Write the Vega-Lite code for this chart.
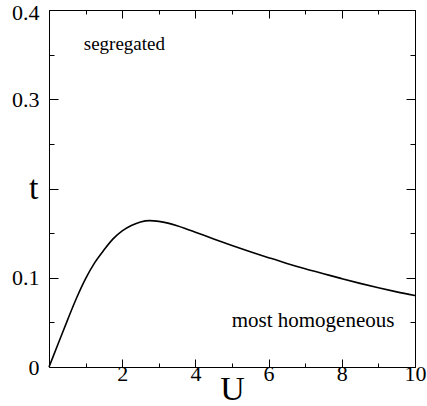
{
  "$schema": "https://vega.github.io/schema/vega-lite/v6.json",
  "width": 366,
  "height": 357,
  "autosize": "none",
  "padding": {"left": 49, "top": 10, "right": 12, "bottom": 39},
  "config": {
    "view": {"stroke": null},
    "font": "Liberation Serif",
    "axis": {
      "domainColor": "black",
      "domainWidth": 1,
      "tickColor": "black",
      "tickWidth": 1,
      "grid": false,
      "labelColor": "black",
      "labelFont": "Liberation Serif",
      "labelFontSize": 22,
      "title": null,
      "labelFlush": false,
      "labelOverlap": false
    }
  },
  "resolve": {"axis": {"x": "independent", "y": "independent"}},
  "layer": [
    {
      "data": {
        "values": [
          {"U": 0, "t": 0},
          {"U": 0.25, "t": 0.026},
          {"U": 0.5, "t": 0.052},
          {"U": 0.75, "t": 0.077},
          {"U": 1.0, "t": 0.099},
          {"U": 1.25, "t": 0.117},
          {"U": 1.5, "t": 0.131},
          {"U": 1.75, "t": 0.1435},
          {"U": 2.0, "t": 0.1525},
          {"U": 2.25, "t": 0.1585},
          {"U": 2.5, "t": 0.1625},
          {"U": 2.75, "t": 0.164},
          {"U": 3.0, "t": 0.1632},
          {"U": 3.25, "t": 0.1612},
          {"U": 3.5, "t": 0.1582},
          {"U": 3.75, "t": 0.1547},
          {"U": 4.0, "t": 0.151},
          {"U": 4.5, "t": 0.1435},
          {"U": 5.0, "t": 0.1362},
          {"U": 5.5, "t": 0.1292},
          {"U": 6.0, "t": 0.1225},
          {"U": 6.5, "t": 0.116},
          {"U": 7.0, "t": 0.11},
          {"U": 7.5, "t": 0.1045},
          {"U": 8.0, "t": 0.099},
          {"U": 8.5, "t": 0.0937},
          {"U": 9.0, "t": 0.0888},
          {"U": 9.5, "t": 0.0842},
          {"U": 10.0, "t": 0.08}
        ]
      },
      "mark": {"type": "line", "color": "black", "strokeWidth": 1.6, "interpolate": "monotone"},
      "encoding": {
        "x": {
          "field": "U", "type": "quantitative",
          "scale": {"domain": [0, 10], "nice": false, "zero": false},
          "axis": {
            "orient": "bottom",
            "values": [0, 1, 2, 3, 4, 5, 6, 7, 8, 9, 10],
            "labelExpr": "datum.value == 5 ? 'U' : (datum.value > 0 && datum.value % 2 == 0 ? datum.label : '')",
            "labelFontSize": {"condition": {"test": "datum.value == 5", "value": 34}, "value": 22},
            "labelPadding": {"condition": {"test": "datum.value == 5", "value": 9}, "value": 4},
            "tickSize": {"condition": {"test": "datum.value % 2 == 0", "value": -8}, "value": -4},
            "labelBaseline": "top"
          }
        },
        "y": {
          "field": "t", "type": "quantitative",
          "scale": {"domain": [0, 0.4], "nice": false, "zero": false},
          "axis": {
            "orient": "left",
            "values": [0, 0.05, 0.1, 0.15, 0.2, 0.25, 0.3, 0.35, 0.4],
            "labelExpr": "datum.value == 0 ? '0' : (round(datum.value*20) == 4 ? 't' : (round(datum.value*20) % 2 == 0 ? format(datum.value, '.1f') : ''))",
            "labelFontSize": {"condition": {"test": "round(datum.value*20) == 4", "value": 34}, "value": 22},
            "labelPadding": {"condition": {"test": "round(datum.value*20) == 4", "value": 20}, "value": 19},
            "labelOffset": {"condition": {"test": "round(datum.value*20) == 8", "value": 2}, "value": 0},
            "tickSize": {"condition": {"test": "round(datum.value*20) % 2 == 0", "value": -9}, "value": -5},
            "labelBaseline": "middle"
          }
        }
      }
    },
    {
      "data": {
        "values": [
          {"U": 0.95, "t": 0.355, "label": "segregated", "size": 19},
          {"U": 4.99, "t": 0.045, "label": "most homogeneous", "size": 21}
        ]
      },
      "mark": {"type": "text", "align": "left", "baseline": "alphabetic", "font": "Liberation Serif", "color": "black"},
      "encoding": {
        "x": {
          "field": "U", "type": "quantitative",
          "scale": {"domain": [0, 10], "nice": false, "zero": false},
          "axis": {
            "orient": "top",
            "values": [0, 1, 2, 3, 4, 5, 6, 7, 8, 9, 10],
            "labels": false,
            "tickSize": {"condition": {"test": "datum.value % 2 == 0", "value": -8}, "value": -4}
          }
        },
        "y": {
          "field": "t", "type": "quantitative",
          "scale": {"domain": [0, 0.4], "nice": false, "zero": false},
          "axis": {
            "orient": "right",
            "values": [0, 0.05, 0.1, 0.15, 0.2, 0.25, 0.3, 0.35, 0.4],
            "labels": false,
            "tickSize": {"condition": {"test": "round(datum.value*20) % 2 == 0", "value": -9}, "value": -5}
          }
        },
        "text": {"field": "label", "type": "nominal"},
        "size": {"field": "size", "type": "quantitative", "scale": null}
      }
    }
  ]
}
